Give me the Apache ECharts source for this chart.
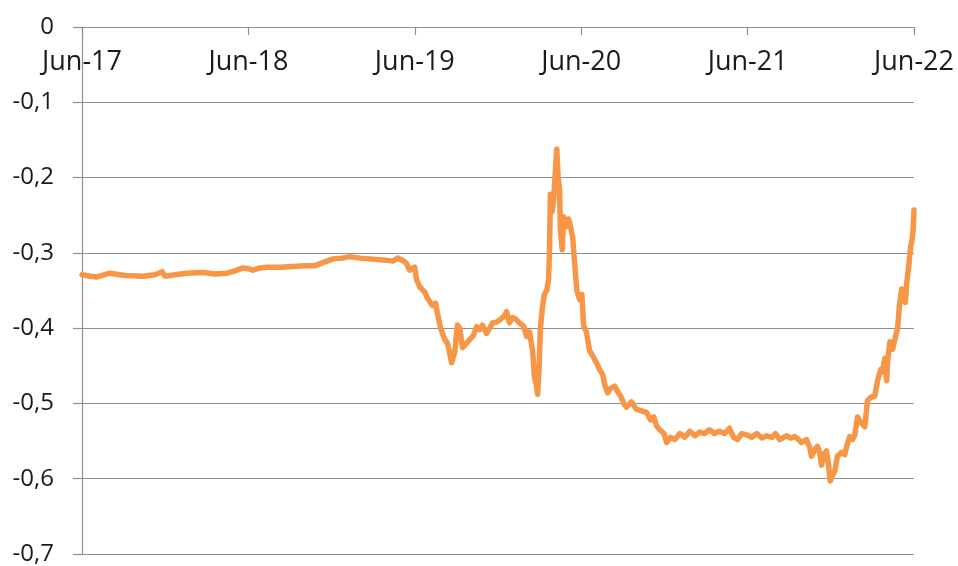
<!DOCTYPE html>
<html>
<head>
<meta charset="utf-8">
<script src="https://cdn.jsdelivr.net/npm/echarts@6/dist/echarts.min.js"></script>
<style>
html,body{margin:0;padding:0;background:#fff;}
#chart{width:958px;height:566px;}
</style>
</head>
<body>
<div id="chart"></div>
<script>
// Series: dates and values
const dates = [
'2017-06-01','2017-06-19','2017-07-04','2017-08-01','2017-09-03','2017-10-13','2017-11-08','2017-11-24','2017-11-30','2017-12-22',
'2018-01-17','2018-02-22','2018-03-20','2018-04-15','2018-05-03','2018-05-20','2018-06-01','2018-06-11','2018-06-27','2018-07-12',
'2018-08-10','2018-09-07','2018-10-03','2018-10-25','2018-11-12','2018-12-04','2018-12-24','2019-01-10','2019-02-01','2019-02-23',
'2019-03-17','2019-04-03','2019-04-14','2019-04-25','2019-05-06','2019-05-14','2019-05-21','2019-06-01','2019-06-05','2019-06-12',
'2019-06-23','2019-06-29','2019-07-10','2019-07-17','2019-07-21','2019-07-28','2019-08-06','2019-08-12','2019-08-17','2019-08-21',
'2019-08-28','2019-09-03','2019-09-08','2019-09-14','2019-09-23','2019-09-30','2019-10-08','2019-10-15','2019-10-22','2019-10-28',
'2019-11-06','2019-11-13','2019-11-19','2019-11-28','2019-12-05','2019-12-13','2019-12-20','2019-12-26','2020-01-02','2020-01-09',
'2020-01-17','2020-01-26','2020-02-02','2020-02-08','2020-02-15','2020-02-19','2020-02-23','2020-02-26','2020-02-29','2020-03-03',
'2020-03-08','2020-03-12','2020-03-17','2020-03-21','2020-03-23','2020-03-25','2020-03-29','2020-04-01','2020-04-04','2020-04-08',
'2020-04-11','2020-04-14','2020-04-16','2020-04-20','2020-04-23','2020-04-27','2020-05-01','2020-05-04','2020-05-08','2020-05-13',
'2020-05-17','2020-05-22','2020-05-28','2020-06-02','2020-06-06','2020-06-12','2020-06-19','2020-06-26','2020-07-04','2020-07-11',
'2020-07-18','2020-07-22','2020-07-29','2020-08-04','2020-08-13','2020-08-20','2020-08-26','2020-09-02','2020-09-08','2020-09-19',
'2020-09-30','2020-10-11','2020-10-22','2020-10-31','2020-11-07','2020-11-13','2020-11-20','2020-11-29','2020-12-05','2020-12-14',
'2020-12-23','2021-01-03','2021-01-14','2021-01-25','2021-02-05','2021-02-16','2021-02-26','2021-03-09','2021-03-20','2021-03-31',
'2021-04-11','2021-04-22','2021-05-01','2021-05-10','2021-05-19','2021-06-01','2021-06-10','2021-06-21','2021-07-02','2021-07-13',
'2021-07-24','2021-08-01','2021-08-10','2021-08-19','2021-08-26','2021-09-03','2021-09-12','2021-09-21','2021-09-27','2021-10-08',
'2021-10-15','2021-10-19','2021-10-26','2021-11-01','2021-11-06','2021-11-10','2021-11-15','2021-11-21','2021-11-26','2021-11-29',
'2021-12-02','2021-12-09','2021-12-15','2021-12-24','2021-12-31','2022-01-06','2022-01-11','2022-01-17','2022-01-22','2022-01-28',
'2022-02-04','2022-02-13','2022-02-19','2022-02-26','2022-03-07','2022-03-13','2022-03-20','2022-03-24','2022-03-29','2022-04-02',
'2022-04-04','2022-04-09','2022-04-15','2022-04-22','2022-04-26','2022-04-30','2022-05-05','2022-05-09','2022-05-13','2022-05-16',
'2022-05-20','2022-05-25','2022-05-28','2022-05-30','2022-06-01'
];
const values = [
-0.329,-0.331,-0.332,-0.327,-0.330,-0.331,-0.329,-0.325,-0.331,-0.329,
-0.327,-0.326,-0.328,-0.327,-0.324,-0.320,-0.321,-0.323,-0.320,-0.319,
-0.319,-0.318,-0.317,-0.317,-0.313,-0.308,-0.307,-0.305,-0.307,-0.308,
-0.309,-0.310,-0.311,-0.307,-0.310,-0.314,-0.323,-0.319,-0.335,-0.345,
-0.352,-0.360,-0.370,-0.367,-0.380,-0.400,-0.415,-0.420,-0.433,-0.446,
-0.432,-0.396,-0.400,-0.426,-0.420,-0.415,-0.410,-0.398,-0.402,-0.396,
-0.407,-0.400,-0.393,-0.392,-0.389,-0.385,-0.378,-0.393,-0.386,-0.388,
-0.393,-0.397,-0.411,-0.405,-0.430,-0.465,-0.475,-0.488,-0.455,-0.400,
-0.370,-0.355,-0.350,-0.335,-0.300,-0.222,-0.245,-0.230,-0.230,-0.162,
-0.200,-0.215,-0.270,-0.296,-0.252,-0.250,-0.265,-0.255,-0.265,-0.280,
-0.312,-0.350,-0.362,-0.355,-0.397,-0.405,-0.430,-0.437,-0.446,-0.455,
-0.462,-0.475,-0.486,-0.480,-0.477,-0.485,-0.490,-0.500,-0.505,-0.498,
-0.508,-0.510,-0.512,-0.522,-0.518,-0.530,-0.535,-0.540,-0.552,-0.545,
-0.548,-0.540,-0.545,-0.537,-0.543,-0.538,-0.540,-0.535,-0.540,-0.537,
-0.540,-0.533,-0.545,-0.548,-0.540,-0.542,-0.545,-0.540,-0.546,-0.543,
-0.545,-0.540,-0.548,-0.545,-0.543,-0.546,-0.544,-0.548,-0.552,-0.548,
-0.558,-0.570,-0.562,-0.557,-0.565,-0.582,-0.568,-0.563,-0.585,-0.603,
-0.598,-0.590,-0.570,-0.565,-0.568,-0.553,-0.544,-0.548,-0.542,-0.518,
-0.525,-0.531,-0.496,-0.492,-0.490,-0.470,-0.455,-0.458,-0.440,-0.470,
-0.445,-0.418,-0.428,-0.410,-0.400,-0.370,-0.348,-0.352,-0.366,-0.340,
-0.320,-0.290,-0.282,-0.270,-0.243
];
const xStart = '2017-06-01';
const xEnd = '2022-06-01';
const yMin = -0.7, yMax = 0, yStep = 0.1;
const monthNames = ['Jan','Feb','Mar','Apr','May','Jun','Jul','Aug','Sep','Oct','Nov','Dec'];

const t0 = Date.parse(xStart), t1 = Date.parse(xEnd);
const seriesData = dates.map((d, i) => [Date.parse(d), values[i]]);
const DAY = 86400000;

const chart = echarts.init(document.getElementById('chart'), null, {renderer: 'canvas'});
chart.setOption({
  animation: false,
  backgroundColor: '#ffffff',
  grid: {left: 82, right: 44, top: 27, bottom: 12, containLabel: false},
  xAxis: {
    type: 'value',
    position: 'top',
    min: t0, max: t1,
    interval: (t1 - t0) / 5,
    axisLine: {show: true, onZero: false, lineStyle: {color: '#8f8f8f', width: 1.2}},
    axisTick: {show: true, inside: true, length: 8, lineStyle: {color: '#8f8f8f', width: 1.2}},
    axisLabel: {
      inside: true, margin: 22,
      color: '#1a1a1a', fontSize: 27, fontFamily: 'Open Sans',
      formatter: v => { const d = new Date(v + 2 * DAY); return monthNames[d.getUTCMonth()] + '-' + String(d.getUTCFullYear()).slice(2); }
    },
    splitLine: {show: false}
  },
  yAxis: {
    type: 'value',
    min: yMin, max: yMax, interval: yStep,
    axisLine: {show: true, lineStyle: {color: '#8f8f8f', width: 1.2}},
    axisTick: {show: true, length: 9, lineStyle: {color: '#8f8f8f', width: 1.2}},
    axisLabel: {
      margin: 28, color: '#1a1a1a', fontSize: 24, fontFamily: 'Open Sans',
      formatter: v => Math.abs(v) < 1e-9 ? '0' : v.toFixed(1).replace('.', ',')
    },
    splitLine: {show: true, lineStyle: {color: '#8f8f8f', width: 1.2}}
  },
  series: [{
    type: 'line',
    data: seriesData,
    showSymbol: false,
    lineStyle: {color: '#F79646', width: 5.5, join: 'round', cap: 'round'},
    itemStyle: {color: '#F79646'}
  }]
});
</script>
</body>
</html>
